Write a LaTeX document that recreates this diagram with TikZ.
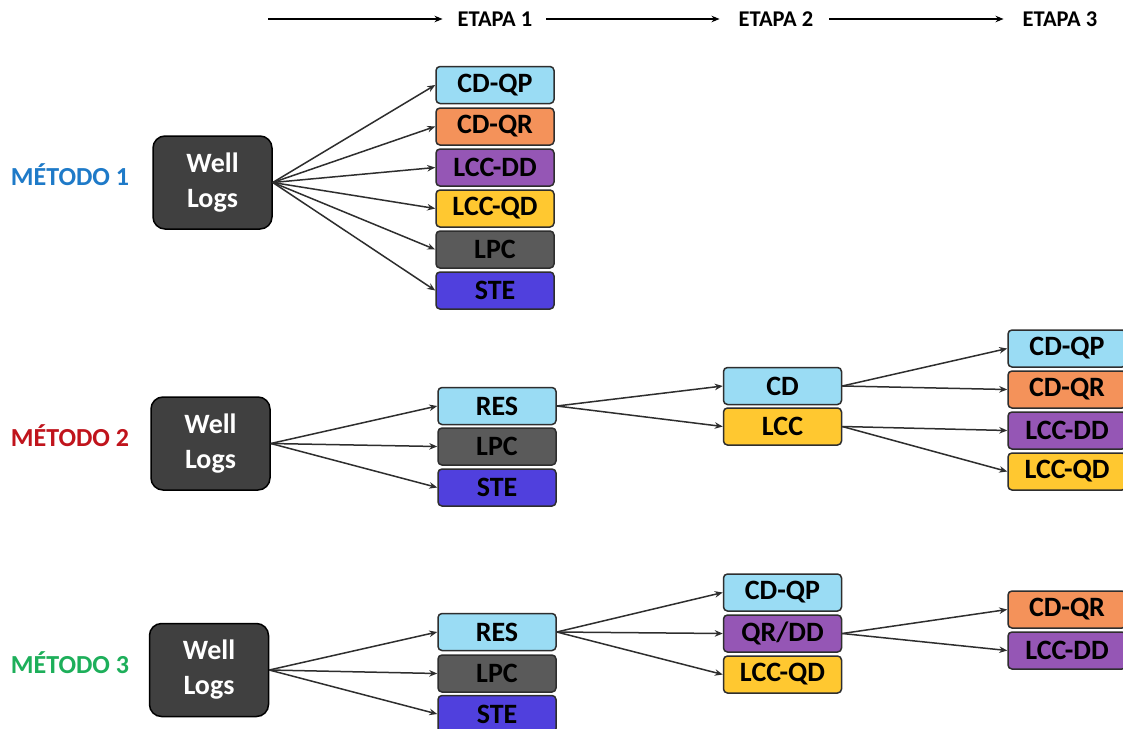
\documentclass[tikz,border=0pt]{standalone}
\usepackage{fontspec}
\setmainfont{Carlito}
\usetikzlibrary{arrows.meta}
\definecolor{cblue}{HTML}{9ADCF4}
\definecolor{corange}{HTML}{F4925A}
\definecolor{cpurple}{HTML}{9556B5}
\definecolor{cyellow}{HTML}{FFC830}
\definecolor{cgray}{HTML}{5A5A5A}
\definecolor{cste}{HTML}{5040DD}
\definecolor{cwell}{HTML}{404040}
\definecolor{cline}{HTML}{2E2E2E}
\definecolor{m1}{HTML}{1E7AC8}
\definecolor{m2}{HTML}{C0141C}
\definecolor{m3}{HTML}{1DAF5A}
\tikzset{
  stbox/.style={draw=cline, line width=1.5pt, rounded corners=4pt, minimum width=118pt, minimum height=37pt, inner sep=0pt, font=\fontsize{28}{30}\selectfont\bfseries, text=black, fill=#1},
  wellbox/.style={draw=black, line width=1.5pt, rounded corners=12pt, minimum width=119pt, minimum height=93pt, inner sep=0pt, fill=cwell, text=white, align=center, font=\fontsize{28}{35}\selectfont\bfseries},
  metlabel/.style={font=\fontsize{26}{28}\selectfont\bfseries, text=#1, inner sep=0pt},
  etlabel/.style={font=\fontsize{22.5}{24}\selectfont\bfseries, inner sep=0pt},
  conn/.style={draw=cline, line width=1.5pt, -{Stealth[length=8pt,width=6.5pt]}},
  hconn/.style={draw=black, line width=1.6pt, -{Stealth[length=8pt,width=6.5pt]}}
}
\begin{document}
\begin{tikzpicture}[x=1pt,y=-1pt]
\clip (0,0) rectangle (1123,728);
\useasboundingbox (0,0) rectangle (1123,728);
\fill[white] (0,0) rectangle (1123,728);
% header
\coordinate (h0) at (268,19);
\node[etlabel] (e1) at (495,19) {ETAPA 1};
\node[etlabel] (e2) at (776,19) {ETAPA 2};
\node[etlabel] (e3) at (1060,19) {ETAPA 3};
\draw[hconn] (h0) -- ([xshift=-15pt]e1.west);
\draw[hconn] ([xshift=14pt]e1.east) -- ([xshift=-19pt]e2.west);
\draw[hconn] ([xshift=16pt]e2.east) -- ([xshift=-19pt]e3.west);
% Method 1
\node[metlabel=m1] (l1) at (70,175) {MÉTODO 1};
\node[wellbox] (w1) at (212.5,182.5) {Well\\Logs};
\node[stbox=cblue] (a1) at (495,85) {CD-QP};
\node[stbox=corange] (a2) at (495,126.5) {CD-QR};
\node[stbox=cpurple] (a3) at (495,167.5) {LCC-DD};
\node[stbox=cyellow] (a4) at (495,208.5) {LCC-QD};
\node[stbox=cgray] (a5) at (495,249.5) {LPC};
\node[stbox=cste] (a6) at (495,290.5) {STE};
\foreach \t in {a1,a2,a3,a4,a5,a6} \draw[conn] (w1.east) -- (\t.west);
% Method 2
\node[metlabel=m2] (l2) at (70,436) {MÉTODO 2};
\node[wellbox] (w2) at (210.5,443.5) {Well\\Logs};
\node[stbox=cblue] (b1) at (497,406) {RES};
\node[stbox=cgray] (b2) at (497,446.5) {LPC};
\node[stbox=cste] (b3) at (497,487.5) {STE};
\node[stbox=cblue] (c1) at (782.5,386) {CD};
\node[stbox=cyellow] (c2) at (782.5,426.5) {LCC};
\node[stbox=cblue] (d1) at (1067,348.5) {CD-QP};
\node[stbox=corange] (d2) at (1067,389.5) {CD-QR};
\node[stbox=cpurple] (d3) at (1067,430.5) {LCC-DD};
\node[stbox=cyellow] (d4) at (1067,471.5) {LCC-QD};
\foreach \t in {b1,b2,b3} \draw[conn] (w2.east) -- (\t.west);
\foreach \t in {c1,c2} \draw[conn] (b1.east) -- (\t.west);
\foreach \t in {d1,d2} \draw[conn] (c1.east) -- (\t.west);
\foreach \t in {d3,d4} \draw[conn] (c2.east) -- (\t.west);
% Method 3
\node[metlabel=m3] (l3) at (70,663) {MÉTODO 3};
\node[wellbox] (w3) at (209,670) {Well\\Logs};
\node[stbox=cblue] (f1) at (497,632) {RES};
\node[stbox=cgray] (f2) at (497,673.5) {LPC};
\node[stbox=cste] (f3) at (497,714) {STE};
\node[stbox=cblue] (g1) at (782.5,592.5) {CD-QP};
\node[stbox=cpurple] (g2) at (782.5,633.5) {QR/DD};
\node[stbox=cyellow] (g3) at (782.5,674.5) {LCC-QD};
\node[stbox=corange] (k1) at (1067,609.5) {CD-QR};
\node[stbox=cpurple] (k2) at (1067,650.5) {LCC-DD};
\foreach \t in {f1,f2,f3} \draw[conn] (w3.east) -- (\t.west);
\foreach \t in {g1,g2,g3} \draw[conn] (f1.east) -- (\t.west);
\foreach \t in {k1,k2} \draw[conn] (g2.east) -- (\t.west);
\end{tikzpicture}
\end{document}
